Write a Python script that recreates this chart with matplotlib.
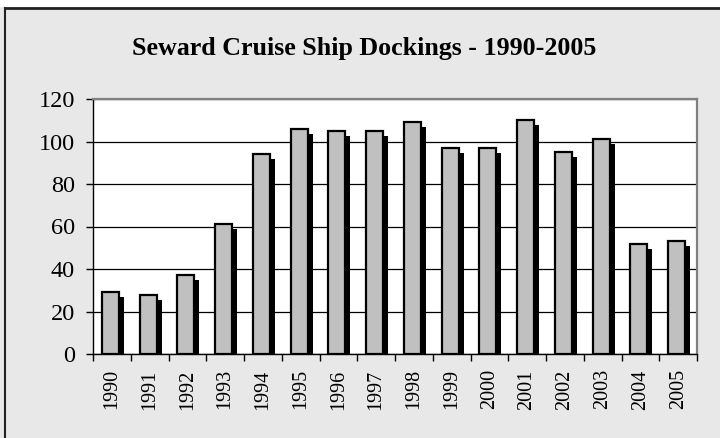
import matplotlib.pyplot as plt
from matplotlib.transforms import ScaledTranslation
from matplotlib.patches import Rectangle
from matplotlib.lines import Line2D

# Seward cruise ship dockings per year
years = ["1990", "1991", "1992", "1993", "1994", "1995", "1996", "1997",
         "1998", "1999", "2000", "2001", "2002", "2003", "2004", "2005"]
dockings = [29, 28, 37, 61, 94, 106, 105, 105, 109, 97, 97, 110, 95, 101, 52, 53]
y_ticks = [0, 20, 40, 60, 80, 100, 120]

plt.rcParams['font.family'] = ['Liberation Serif', 'DejaVu Serif']

fig = plt.figure(figsize=(7.2, 4.38), dpi=100)
fig.patch.set_facecolor("#e8e8e8")

# white strip at the very top plus the dark frame of the chart box
fig.add_artist(Rectangle((0, 1 - 7 / 438), 1, 7 / 438, transform=fig.transFigure,
                         facecolor="white", edgecolor="none"))
fig.add_artist(Line2D([5 / 720, 1], [1 - 8 / 438, 1 - 8 / 438], transform=fig.transFigure,
                      color="#222222", lw=2))
fig.add_artist(Line2D([5 / 720, 5 / 720], [0, 1 - 8 / 438], transform=fig.transFigure,
                      color="#222222", lw=1.5))

ax = fig.add_axes([93 / 720, 84 / 438, 604 / 720, 255 / 438])
ax.set_facecolor("white")

x = list(range(len(years)))
xf = [i - 0.04 for i in x]

# shadow bars, shifted right and down by a few pixels
shadow = ScaledTranslation(5 / 100, -5 / 100, fig.dpi_scale_trans)
sh = ax.bar(xf, dockings, width=0.45, color="black", edgecolor="black", lw=0, zorder=3)
for p in sh:
    p.set_transform(ax.transData + shadow)
ax.bar(xf, dockings, width=0.45, color="#c0c0c0", edgecolor="black", lw=1.6, zorder=4)

ax.set_xlim(-0.5, len(years) - 0.5)
ax.set_ylim(0, 120)
ax.set_yticks(y_ticks)
ax.set_yticklabels([str(v) for v in y_ticks], fontsize=17.5)
ax.yaxis.grid(True, color="black", lw=0.9)
ax.set_axisbelow(True)

# category labels in the middle, ticks on the category boundaries
ax.set_xticks(x)
ax.set_xticklabels(years, rotation=90, fontsize=14.5)
ax.tick_params(axis="x", which="major", length=0, pad=11)
ax.set_xticks([i - 0.5 for i in range(len(years) + 1)], minor=True)
ax.tick_params(axis="x", which="minor", length=5, width=1, color="black")
ax.tick_params(axis="y", length=5, width=1, color="black", pad=8)

for s in ["top", "right"]:
    ax.spines[s].set_color("#808080")
    ax.spines[s].set_linewidth(1.6)
for s in ["left", "bottom"]:
    ax.spines[s].set_color("black")
    ax.spines[s].set_linewidth(1)

fig.text(364 / 720, 1 - 49 / 438, "Seward Cruise Ship Dockings - 1990-2005",
         ha="center", va="center", fontsize=18.7, fontweight="bold")

fig.savefig("out.png", dpi=100, facecolor=fig.get_facecolor())
